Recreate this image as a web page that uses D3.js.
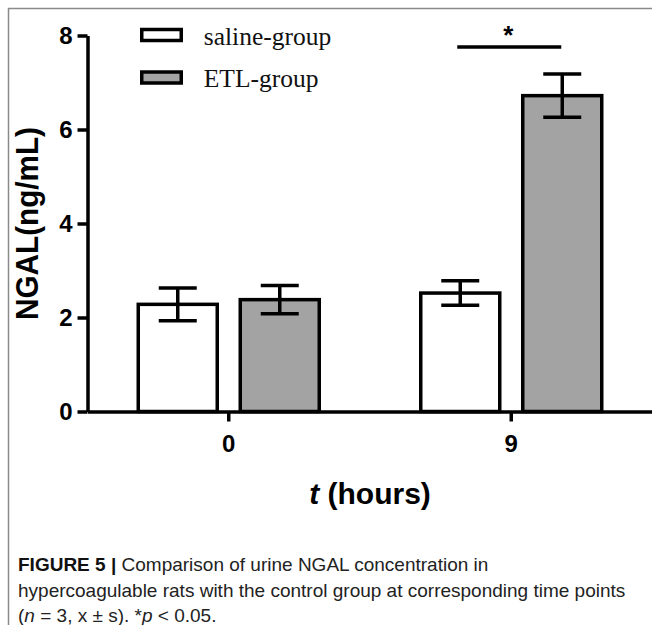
<!DOCTYPE html>
<html>
<head>
<meta charset="utf-8">
<script src="https://cdn.jsdelivr.net/npm/d3@7"></script>
<style>
  body { margin: 0; background: #fff; }
  svg { display: block; }
</style>
</head>
<body>
<div id="chart"></div>
<script>
// data
var groups = ["0", "9"];
var seriesNames = ["saline-group", "ETL-group"];
var salineMean = [2.28, 2.52];
var salineSD = [0.35, 0.26];
var etlMean = [2.38, 6.72];
var etlSD = [0.30, 0.46];
var yTicks = [0, 2, 4, 6, 8];
var sigPair = ["9"]; // * p < 0.05 at 9 h
var captionLines = [
  ["FIGURE 5 |", " Comparison of urine NGAL concentration in"],
  ["", "hypercoagulable rats with the control group at corresponding time points"]
];

var width = 652, height = 625;
var fills = ["#ffffff", "#a3a3a3"];

// table of bars built from the arrays above
var bars = [];
groups.forEach(function(g, i){
  bars.push({group: g, series: seriesNames[0], mean: salineMean[i], sd: salineSD[i]});
  bars.push({group: g, series: seriesNames[1], mean: etlMean[i], sd: etlSD[i]});
});

var svg = d3.select("#chart")
  .append("svg")
    .attr("width", width)
    .attr("height", height);

// frame lines (figure panel border)
svg.append("path")
  .attr("d", "M8.5," + height + "V8.5H" + width)
  .attr("fill", "none")
  .attr("stroke", "#8a8a8a")
  .attr("stroke-width", 1.5);

var x = d3.scaleBand()
  .domain(groups)
  .range([87.5, 652.5])
  .padding(0);

var xs = d3.scalePoint()
  .domain(seriesNames)
  .range([-51, 51]);

var barW = 79;

var y = d3.scaleLinear()
  .domain([0, 8])
  .range([411.5, 35.5]);

var color = d3.scaleOrdinal().domain(seriesNames).range(fills);

var g = svg.append("g");

// bars
g.selectAll("rect.bar")
  .data(bars)
  .enter()
  .append("rect")
    .attr("class", "bar")
    .attr("x", function(d){ return x(d.group) + x.bandwidth()/2 + xs(d.series) - barW/2; })
    .attr("y", function(d){ return y(d.mean); })
    .attr("width", barW)
    .attr("height", function(d){ return y(0) - y(d.mean); })
    .attr("fill", function(d){ return color(d.series); })
    .attr("stroke", "#000")
    .attr("stroke-width", 3.5);

// error bars
var capW = 38;
var eb = g.selectAll("g.err")
  .data(bars)
  .enter()
  .append("g")
    .attr("class", "err")
    .attr("transform", function(d){ return "translate(" + (x(d.group) + x.bandwidth()/2 + xs(d.series)) + ",0)"; });
eb.append("line")
  .attr("x1", 0).attr("x2", 0)
  .attr("y1", function(d){ return y(d.mean + d.sd); })
  .attr("y2", function(d){ return y(d.mean - d.sd); });
eb.append("line")
  .attr("x1", -capW/2).attr("x2", capW/2)
  .attr("y1", function(d){ return y(d.mean + d.sd); })
  .attr("y2", function(d){ return y(d.mean + d.sd); });
eb.append("line")
  .attr("x1", -capW/2).attr("x2", capW/2)
  .attr("y1", function(d){ return y(d.mean - d.sd); })
  .attr("y2", function(d){ return y(d.mean - d.sd); });
eb.selectAll("line").attr("stroke", "#000").attr("stroke-width", 3.5);

// Y axis
var yAxis = svg.append("g")
  .attr("transform", "translate(87.5,0)")
  .call(d3.axisLeft(y).tickValues(yTicks).tickSize(10).tickSizeOuter(0).tickPadding(5));

// X axis
var xAxis = svg.append("g")
  .attr("transform", "translate(0," + y(0) + ")")
  .call(d3.axisBottom(x).tickSize(10).tickSizeOuter(0).tickPadding(13));

[yAxis, xAxis].forEach(function(ax){
  ax.select(".domain").attr("stroke", "#000").attr("stroke-width", 3.5);
  ax.selectAll(".tick line").attr("stroke", "#000").attr("stroke-width", 3.5);
  ax.selectAll(".tick text")
    .attr("fill", "#000")
    .style("font-family", "'Liberation Sans', Arial, sans-serif")
    .style("font-weight", "bold")
    .style("font-size", "24px");
});

// Y axis label
svg.append("text")
  .attr("transform", "translate(38,223.5) rotate(-90)")
  .attr("text-anchor", "middle")
  .attr("textLength", 193)
  .attr("lengthAdjust", "spacingAndGlyphs")
  .style("font-family", "'Liberation Sans', Arial, sans-serif")
  .style("font-weight", "bold")
  .style("font-size", "31px")
  .text("NGAL(ng/mL)");

// X axis title
var xt = svg.append("text")
  .attr("x", 370)
  .attr("y", 504)
  .attr("text-anchor", "middle")
  .style("font-family", "'Liberation Sans', Arial, sans-serif")
  .style("font-weight", "bold")
  .style("font-size", "30px");
xt.append("tspan").style("font-style", "italic").text("t");
xt.append("tspan").text(" (hours)");

// significance marker
var sigX = x(sigPair[0]) + x.bandwidth()/2;
svg.append("line")
  .attr("x1", sigX - 54).attr("x2", sigX + 50)
  .attr("y1", 47).attr("y2", 47)
  .attr("stroke", "#000")
  .attr("stroke-width", 3.5);
svg.append("text")
  .attr("x", sigX - 3)
  .attr("y", 44)
  .attr("text-anchor", "middle")
  .style("font-family", "'Liberation Sans', Arial, sans-serif")
  .style("font-weight", "bold")
  .style("font-size", "26px")
  .text("*");

// legend
var legend = svg.selectAll("g.legend")
  .data(seriesNames)
  .enter()
  .append("g")
    .attr("class", "legend")
    .attr("transform", function(d, i){ return "translate(141.75," + (29.5 + i*42.5) + ")"; });
legend.append("rect")
  .attr("width", 39.5)
  .attr("height", 11)
  .attr("fill", function(d){ return color(d); })
  .attr("stroke", "#000")
  .attr("stroke-width", 3.5);
legend.append("text")
  .attr("x", 62)
  .attr("y", 15)
  .style("font-family", "'Liberation Serif', 'Times New Roman', serif")
  .style("font-size", "25.5px")
  .attr("fill", "#111")
  .text(function(d){ return d; });

// caption
var cap = svg.append("g")
  .style("font-family", "'Liberation Sans', Arial, sans-serif")
  .style("font-size", "19px")
  .attr("fill", "#222");
captionLines.forEach(function(line, i){
  var t = cap.append("text").attr("x", 18).attr("y", 571 + i*26);
  if (line[0]) t.append("tspan").style("font-weight", "bold").attr("fill", "#111").text(line[0]);
  t.append("tspan").text(line[1]);
});
var l3 = cap.append("text").attr("x", 18).attr("y", 622);
l3.append("tspan").text("(");
l3.append("tspan").style("font-style", "italic").text("n");
l3.append("tspan").text(" = 3, x \u00b1 s). *");
l3.append("tspan").style("font-style", "italic").text("p");
l3.append("tspan").text(" < 0.05.");
</script>
</body>
</html>
